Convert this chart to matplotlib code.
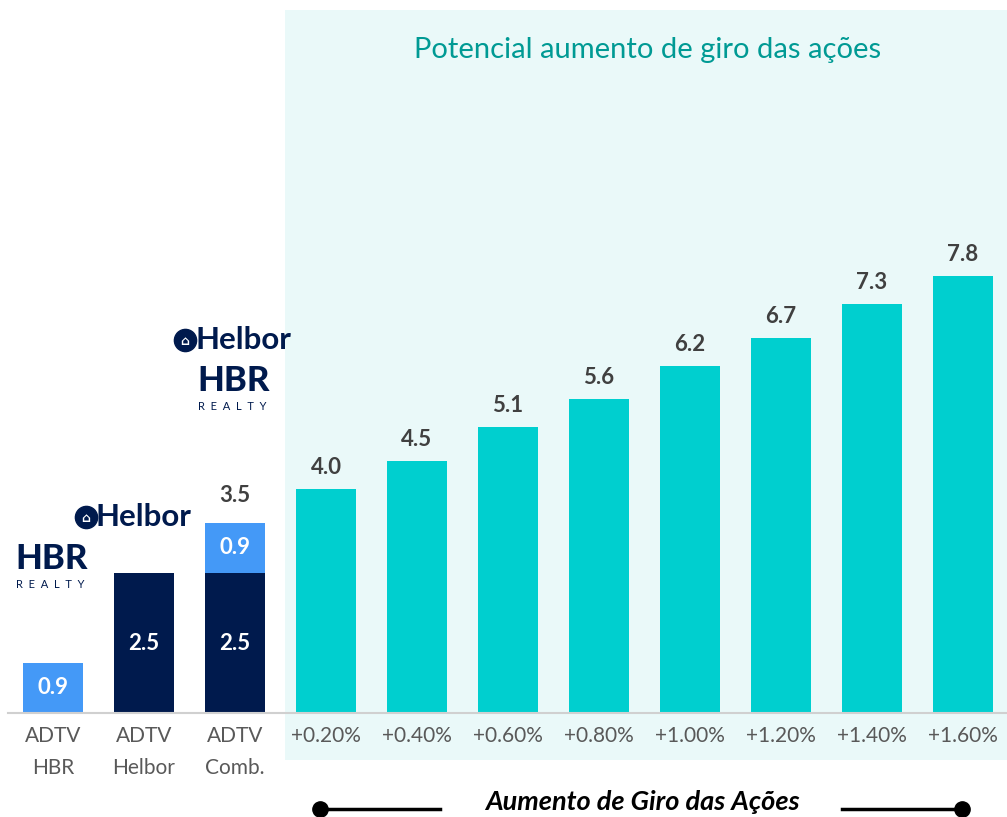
import matplotlib.pyplot as plt
from matplotlib.patches import Rectangle

plt.rcParams['font.family'] = ['Lato', 'DejaVu Sans']

# data
categories = ['ADTV\nHBR', 'ADTV\nHelbor', 'ADTV\nComb.',
              '+0.20%', '+0.40%', '+0.60%', '+0.80%',
              '+1.00%', '+1.20%', '+1.40%', '+1.60%']
hbr_part = [0.9, 0.0, 0.9]
helbor_part = [0.0, 2.5, 2.5]
comb_total = [3.5]
potential = [4.0, 4.5, 5.1, 5.6, 6.2, 6.7, 7.3, 7.8]

light_blue = '#4499F7'
navy = '#001A4D'
cyan = '#00CFCF'
panel_bg = '#EAF9F9'
teal = '#009A94'

W, H = 1007, 817
fig = plt.figure(figsize=(W / 100, H / 100), dpi=100)

# background panel for the "potential" area (pixel coords)
ov = fig.add_axes([0, 0, 1, 1], zorder=0)
ov.set_xlim(0, W)
ov.set_ylim(H, 0)
ov.axis('off')
ov.add_patch(Rectangle((285, 10), W - 285, 750, color=panel_bg, lw=0))

# main axes: baseline at y=713 px, 56 px per unit
base_px = 713
top_px = 10
ax = fig.add_axes([7.5 / W, (H - base_px) / H, (W - 7.5) / W, (base_px - top_px) / H], zorder=1)
ax.patch.set_alpha(0)
ax.set_xlim(-0.5, (W - 53) / 91)
ax.set_ylim(0, (base_px - top_px) / 56)

x_adtv = range(3)
x_pot = range(3, 11)
bw = 0.67

ax.bar(x_adtv, helbor_part, width=bw, color=navy)
ax.bar(x_adtv, hbr_part, width=bw, bottom=helbor_part, color=light_blue)
ax.bar(x_pot, potential, width=bw, color=cyan)

# labels inside ADTV bars
for i in x_adtv:
    if helbor_part[i] > 0:
        ax.text(i, helbor_part[i] / 2, f'{helbor_part[i]:.1f}', ha='center', va='center',
                color='white', fontsize=16, fontweight='bold')
    if hbr_part[i] > 0:
        ax.text(i, helbor_part[i] + hbr_part[i] / 2, f'{hbr_part[i]:.1f}', ha='center',
                va='center', color='white', fontsize=16, fontweight='bold')
ax.text(2, comb_total[0] + 0.2, f'{comb_total[0]:.1f}', ha='center', va='bottom',
        color='#404040', fontsize=16, fontweight='bold')

for x, v in zip(x_pot, potential):
    ax.text(x, v + 0.2, f'{v:.1f}', ha='center', va='bottom',
            color='#404040', fontsize=16, fontweight='bold')

ax.set_xticks(range(len(categories)))
ax.set_xticklabels(categories, fontsize=15, color='#595959', linespacing=1.75)
ax.tick_params(axis='x', length=0, pad=9)
ax.set_yticks([])
for s in ['top', 'right', 'left']:
    ax.spines[s].set_visible(False)
ax.spines['bottom'].set_color('#D0D0D0')
ax.spines['bottom'].set_linewidth(1.5)

# title in panel
fig.text(648 / W, 1 - 50 / H, 'Potencial aumento de giro das ações', ha='center', va='center',
         color=teal, fontsize=21)

# bottom axis caption with lines
ov2 = fig.add_axes([0, 0, 1, 1], zorder=2)
ov2.set_xlim(0, W)
ov2.set_ylim(H, 0)
ov2.axis('off')
ov2.plot([320, 440], [809, 809], color='black', lw=2.5)
ov2.plot([320], [809], 'o', color='black', ms=11)
ov2.plot([842, 962], [809, 809], color='black', lw=2.5)
ov2.plot([962], [809], 'o', color='black', ms=11)
ov2.text(642, 802, 'Aumento de Giro das Ações', ha='center', va='center',
         fontsize=19.5, fontweight='bold', fontstyle='italic', color='black')


# logos drawn as text
def helbor_logo(x, y):
    ov2.plot([x + 10], [y], 'o', color=navy, ms=16)
    ov2.text(x + 10, y + 1, '\u2302', ha='center', va='center', color='white', fontsize=9,
             family='DejaVu Sans', fontweight='bold')
    ov2.text(x + 20, y, 'Helbor', ha='left', va='center', color=navy,
             fontsize=22.5, fontweight='bold')


def hbr_logo(x, y):
    ov2.text(x, y, 'HBR', ha='left', va='center', color=navy, fontsize=25, fontweight='black')
    ov2.text(x + 1, y + 25, 'R  E  A  L  T  Y', ha='left', va='center', color=navy, fontsize=8)


helbor_logo(175, 340)
hbr_logo(197, 381)
helbor_logo(76, 517)
hbr_logo(15, 559)

fig.savefig('out.png', dpi=100)
